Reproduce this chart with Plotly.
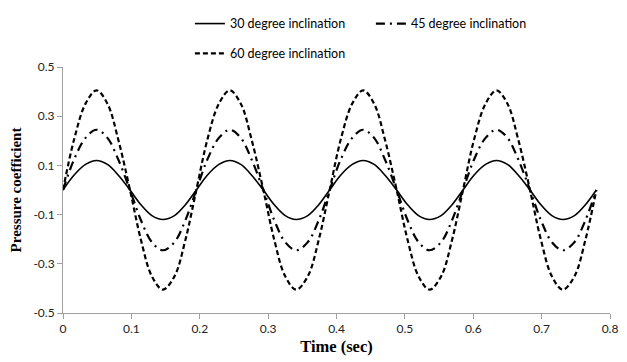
import plotly.graph_objects as go

time_sec = [0.000, 0.016, 0.033, 0.049, 0.065, 0.081, 0.098, 0.114, 0.130, 0.146, 0.163, 0.179,
            0.195, 0.211, 0.228, 0.244, 0.260, 0.276, 0.293, 0.309, 0.325, 0.341, 0.358, 0.374,
            0.390, 0.406, 0.423, 0.439, 0.455, 0.471, 0.488, 0.504, 0.520, 0.536, 0.553, 0.569,
            0.585, 0.601, 0.618, 0.634, 0.650, 0.666, 0.683, 0.699, 0.715, 0.731, 0.748, 0.764,
            0.780]

cp_30 = [0, 0.060, 0.104, 0.120, 0.104, 0.060, 0, -0.060, -0.104, -0.120, -0.104, -0.060,
         0, 0.060, 0.104, 0.120, 0.104, 0.060, 0, -0.060, -0.104, -0.120, -0.104, -0.060,
         0, 0.060, 0.104, 0.120, 0.104, 0.060, 0, -0.060, -0.104, -0.120, -0.104, -0.060,
         0, 0.060, 0.104, 0.120, 0.104, 0.060, 0, -0.060, -0.104, -0.120, -0.104, -0.060,
         0]

cp_45 = [0, 0.123, 0.212, 0.245, 0.212, 0.123, 0, -0.123, -0.212, -0.245, -0.212, -0.123,
         0, 0.123, 0.212, 0.245, 0.212, 0.123, 0, -0.123, -0.212, -0.245, -0.212, -0.123,
         0, 0.123, 0.212, 0.245, 0.212, 0.123, 0, -0.123, -0.212, -0.245, -0.212, -0.123,
         0, 0.123, 0.212, 0.245, 0.212, 0.123, 0, -0.123, -0.212, -0.245, -0.212, -0.123,
         0]

cp_60 = [0, 0.203, 0.351, 0.405, 0.351, 0.203, 0, -0.203, -0.351, -0.405, -0.351, -0.203,
         0, 0.203, 0.351, 0.405, 0.351, 0.203, 0, -0.203, -0.351, -0.405, -0.351, -0.203,
         0, 0.203, 0.351, 0.405, 0.351, 0.203, 0, -0.203, -0.351, -0.405, -0.351, -0.203,
         0, 0.203, 0.351, 0.405, 0.351, 0.203, 0, -0.203, -0.351, -0.405, -0.351, -0.203,
         0]

x_ticks = [0, 0.1, 0.2, 0.3, 0.4, 0.5, 0.6, 0.7, 0.8]
y_ticks = [-0.5, -0.3, -0.1, 0.1, 0.3, 0.5]

fig = go.Figure()
fig.add_trace(go.Scatter(x=time_sec, y=cp_30, mode="lines", name="30 degree inclination",
                         line=dict(color="black", width=1.6, shape="spline"), legend="legend"))
fig.add_trace(go.Scatter(x=time_sec, y=cp_45, mode="lines", name="45 degree inclination",
                         line=dict(color="black", width=2.2, shape="spline", dash="9px,5px,2px,5px"),
                         legend="legend"))
fig.add_trace(go.Scatter(x=time_sec, y=cp_60, mode="lines", name="60 degree inclination",
                         line=dict(color="black", width=2.2, shape="spline", dash="5px,3px"),
                         legend="legend2"))

tick_font = dict(family="Lato, Open Sans, sans-serif", size=12, color="#222")
legend_font = dict(family="Lato, Open Sans, sans-serif", size=12.5, color="black")
y_title_font = dict(family="Liberation Serif, Times New Roman, serif", size=15, color="black")
x_title_font = dict(family="Liberation Serif, Times New Roman, serif", size=16.5, color="black")

fig.update_layout(
    width=627, height=362,
    margin=dict(l=63, r=9, t=65, b=49),
    paper_bgcolor="white", plot_bgcolor="white",
    font=tick_font,
    xaxis=dict(range=[0, 0.8], tickvals=x_ticks, ticktext=[f"{v:g}" for v in x_ticks],
               showgrid=False, zeroline=False, showline=True, linecolor="#a0a0a0", linewidth=1,
               ticks="outside", ticklen=5, tickcolor="#a0a0a0",
               title=dict(text="<b>Time (sec)</b>", font=x_title_font, standoff=5)),
    yaxis=dict(range=[-0.5, 0.5], tickvals=y_ticks, ticktext=[f"{v:g}" for v in y_ticks],
               showgrid=False, zeroline=False, showline=True, linecolor="#a0a0a0", linewidth=1,
               ticks="outside", ticklen=5, tickcolor="#a0a0a0",
               title=dict(text="<b>Pressure coefficient</b>", font=y_title_font, standoff=8)),
    legend=dict(orientation="h", x=0.232, y=1.175, xanchor="left", yanchor="middle",
                font=legend_font,
                entrywidth=136, entrywidthmode="pixels", bgcolor="rgba(0,0,0,0)"),
    legend2=dict(orientation="h", x=0.232, y=1.054, xanchor="left", yanchor="middle",
                 font=legend_font, bgcolor="rgba(0,0,0,0)"),
    showlegend=True,
)

fig.write_html("out.html")
